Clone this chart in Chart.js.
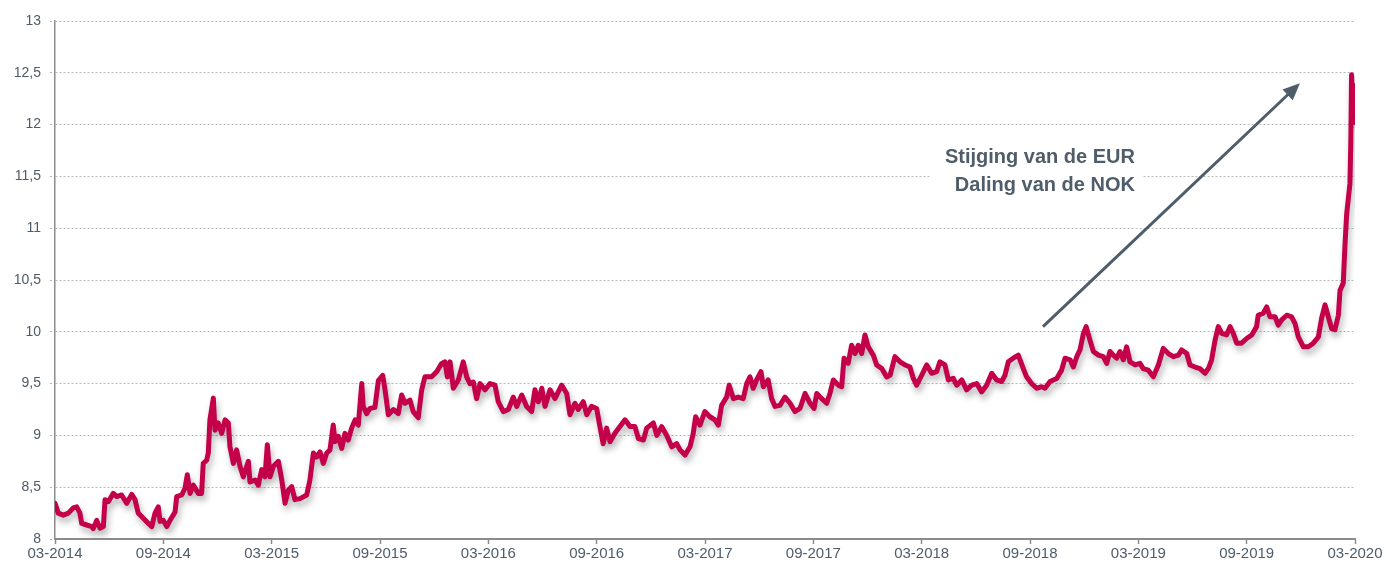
<!DOCTYPE html>
<html>
<head>
<meta charset="utf-8">
<script src="https://cdn.jsdelivr.net/npm/chart.js@4/dist/chart.umd.min.js"></script>
<style>
  html, body { margin:0; padding:0; background:#fff; }
  #wrap { width:1386px; height:565px; position:relative; }
</style>
</head>
<body>
<div id="wrap"><canvas id="c" width="1386" height="565"></canvas></div>
<script>
// Months elapsed since 03-2014
const months = [
0.00,0.18,0.46,0.74,1.01,1.20,1.38,1.48,1.76,2.03,2.12,2.31,2.49,2.68,2.77,2.95,3.23,3.42,3.69,3.97,
4.25,4.43,4.61,4.89,5.17,5.36,5.54,5.72,5.82,6.00,6.19,6.37,6.65,6.74,7.02,7.20,7.33,7.48,7.66,7.94,
8.12,8.21,8.40,8.49,8.58,8.77,8.86,9.04,9.23,9.42,9.60,9.69,9.88,10.06,10.25,10.43,10.71,10.80,11.08,11.26,
11.45,11.63,11.76,11.91,12.09,12.37,12.56,12.74,12.92,13.11,13.29,13.57,13.94,14.12,14.31,14.49,14.68,14.86,15.05,15.23,
15.41,15.51,15.69,15.88,16.06,16.24,16.43,16.62,16.80,16.99,17.07,17.26,17.45,17.72,17.91,18.15,18.28,18.46,18.74,19.01,
19.20,19.38,19.66,19.84,20.12,20.31,20.49,20.86,21.14,21.42,21.60,21.73,21.88,22.06,22.34,22.61,22.80,22.98,23.17,23.35,
23.54,23.82,24.09,24.37,24.55,24.83,25.11,25.38,25.57,25.85,26.12,26.40,26.58,26.77,26.96,27.14,27.42,27.69,28.06,28.34,
28.52,28.80,28.98,29.26,29.45,29.72,30.00,30.18,30.36,30.55,30.74,31.01,31.29,31.57,31.85,32.12,32.31,32.59,32.77,33.14,
33.33,33.60,33.88,34.16,34.43,34.62,34.89,35.17,35.35,35.48,35.72,35.99,36.27,36.55,36.74,36.92,37.20,37.34,37.57,37.84,
38.12,38.31,38.49,38.67,38.86,39.10,39.23,39.50,39.69,39.88,40.15,40.43,40.71,40.98,41.26,41.54,41.82,42.04,42.19,42.46,
42.74,42.92,43.11,43.38,43.57,43.70,43.93,44.12,44.31,44.49,44.68,44.86,45.04,45.32,45.51,45.79,46.06,46.25,46.52,46.80,
47.08,47.35,47.54,47.72,48.00,48.28,48.55,48.83,49.01,49.29,49.48,49.75,49.94,50.22,50.49,50.77,51.05,51.32,51.60,51.88,
52.15,52.43,52.61,52.80,53.07,53.35,53.63,53.81,54.09,54.37,54.65,54.83,55.11,55.48,55.75,55.94,56.22,56.40,56.59,56.77,
56.96,57.11,57.32,57.51,57.79,58.06,58.25,58.43,58.61,58.80,58.98,59.17,59.35,59.54,59.82,60.09,60.27,60.55,60.83,61.11,
61.38,61.66,61.94,62.22,62.40,62.68,62.86,63.14,63.41,63.69,63.88,64.06,64.25,64.43,64.62,64.89,65.08,65.26,65.45,65.72,
66.00,66.28,66.55,66.64,66.92,67.11,67.29,67.57,67.75,67.94,68.22,68.49,68.68,68.86,69.14,69.42,69.69,69.97,70.15,70.34,
70.52,70.71,70.89,71.08,71.17,71.35,71.44,71.54,71.72,71.77,71.81,71.86,71.90,71.95,72.00
];
// EUR/NOK rate
const eurNok = [
8.345,8.25,8.23,8.25,8.30,8.31,8.25,8.15,8.135,8.12,8.10,8.18,8.105,8.12,8.38,8.36,8.44,8.41,8.425,8.345,
8.43,8.38,8.25,8.20,8.15,8.12,8.25,8.31,8.17,8.18,8.12,8.18,8.26,8.41,8.425,8.49,8.62,8.44,8.52,8.44,
8.44,8.73,8.76,8.83,9.15,9.36,9.05,9.12,9.02,9.15,9.12,8.89,8.73,8.86,8.70,8.60,8.75,8.55,8.57,8.52,
8.67,8.60,8.91,8.60,8.70,8.75,8.57,8.345,8.47,8.505,8.38,8.39,8.425,8.57,8.83,8.79,8.84,8.73,8.83,8.86,
9.10,8.94,8.99,8.875,9.02,8.955,9.07,9.15,9.10,9.50,9.28,9.21,9.26,9.27,9.53,9.58,9.44,9.20,9.25,9.21,
9.39,9.31,9.34,9.23,9.17,9.44,9.565,9.565,9.615,9.695,9.71,9.565,9.71,9.455,9.535,9.71,9.565,9.50,9.515,9.355,
9.50,9.44,9.50,9.485,9.325,9.23,9.25,9.37,9.28,9.39,9.28,9.23,9.44,9.325,9.455,9.28,9.44,9.355,9.485,9.405,
9.20,9.31,9.25,9.325,9.20,9.28,9.26,9.085,8.92,9.07,8.94,9.02,9.085,9.15,9.085,9.085,8.97,8.955,9.07,9.12,
9.00,9.085,9.00,8.89,8.92,8.86,8.81,8.89,9.02,9.18,9.10,9.23,9.18,9.15,9.10,9.29,9.37,9.485,9.355,9.37,
9.355,9.50,9.565,9.455,9.535,9.615,9.47,9.535,9.355,9.28,9.29,9.37,9.31,9.23,9.26,9.405,9.31,9.26,9.405,9.355,
9.31,9.405,9.535,9.485,9.47,9.745,9.695,9.87,9.79,9.87,9.79,9.97,9.855,9.775,9.68,9.645,9.565,9.58,9.76,9.71,
9.68,9.66,9.55,9.485,9.58,9.68,9.60,9.615,9.71,9.68,9.535,9.55,9.485,9.535,9.44,9.485,9.50,9.42,9.485,9.60,
9.535,9.52,9.58,9.71,9.745,9.775,9.645,9.565,9.50,9.455,9.47,9.455,9.52,9.55,9.63,9.745,9.73,9.66,9.76,9.825,
9.985,10.05,9.92,9.81,9.775,9.76,9.695,9.81,9.775,9.745,9.81,9.73,9.855,9.71,9.68,9.695,9.645,9.63,9.565,9.68,
9.84,9.79,9.76,9.775,9.825,9.79,9.68,9.66,9.645,9.60,9.645,9.73,9.92,10.05,9.985,9.97,10.05,9.985,9.89,9.89,
9.935,9.97,10.05,10.16,10.18,10.24,10.145,10.145,10.065,10.115,10.16,10.145,10.08,9.95,9.855,9.855,9.89,9.95,10.13,10.26,
10.145,10.03,10.02,10.16,10.40,10.47,10.82,11.14,11.43,11.85,12.48,12.25,12.38,12.02,12.15
];
const xTickLabels = ['03-2014','09-2014','03-2015','09-2015','03-2016','09-2016','03-2017','09-2017','03-2018','09-2018','03-2019','09-2019','03-2020'];
const annotationLines = ['Stijging van de EUR','Daling van de NOK'];

// annotation anchors in data units (months, rate)
const textRightX = 59.81;
const textBaselines = [11.63, 11.36];
const boxX = [48.46, 60.26];
const boxY = [11.28, 11.92];
const arrowFrom = [54.72, 10.05];
const arrowTo = [68.95, 12.40];

const textColor = '#4f5c69';
const lineColor = '#c4004a';

const lineShadow = {
  id:'lineShadow',
  beforeDatasetDraw(chart){
    const ctx = chart.ctx;
    ctx.save();
    ctx.shadowColor = 'rgba(0,0,0,0.28)';
    ctx.shadowBlur = 6;
    ctx.shadowOffsetX = 2;
    ctx.shadowOffsetY = 5;
  },
  afterDatasetDraw(chart){
    chart.ctx.restore();
  }
};

const annot = {
  id:'annot',
  beforeDatasetsDraw(chart){
    const {ctx, scales:{x, y}} = chart;
    const x0 = x.getPixelForValue(boxX[0]), x1 = x.getPixelForValue(boxX[1]);
    const y0 = y.getPixelForValue(boxY[1]), y1 = y.getPixelForValue(boxY[0]);
    ctx.save();
    ctx.fillStyle = '#ffffff';
    ctx.fillRect(x0, y0, x1 - x0, y1 - y0);
    ctx.fillStyle = textColor;
    ctx.font = 'bold 20px "Liberation Sans", Arial, sans-serif';
    ctx.textAlign = 'right';
    ctx.textBaseline = 'alphabetic';
    const tx = x.getPixelForValue(textRightX);
    annotationLines.forEach((t, i) => {
      ctx.fillText(t, tx, y.getPixelForValue(textBaselines[i]));
    });
    ctx.restore();
  },
  afterDatasetsDraw(chart){
    const {ctx, scales:{x, y}} = chart;
    const sx = x.getPixelForValue(arrowFrom[0]), sy = y.getPixelForValue(arrowFrom[1]);
    const ex = x.getPixelForValue(arrowTo[0]), ey = y.getPixelForValue(arrowTo[1]);
    const ang = Math.atan2(ey - sy, ex - sx);
    const headLen = 17, headHalf = 7.5;
    const bx = ex - headLen * Math.cos(ang), by = ey - headLen * Math.sin(ang);
    ctx.save();
    ctx.strokeStyle = textColor;
    ctx.fillStyle = textColor;
    ctx.lineWidth = 3;
    ctx.beginPath();
    ctx.moveTo(sx, sy);
    ctx.lineTo(bx + 2*Math.cos(ang), by + 2*Math.sin(ang));
    ctx.stroke();
    ctx.beginPath();
    ctx.moveTo(ex, ey);
    ctx.lineTo(bx + headHalf * Math.sin(ang), by - headHalf * Math.cos(ang));
    ctx.lineTo(bx - headHalf * Math.sin(ang), by + headHalf * Math.cos(ang));
    ctx.closePath();
    ctx.fill();
    ctx.restore();
  }
};

const points = months.map((m, i) => ({x: m, y: eurNok[i]}));

new Chart(document.getElementById('c'), {
  type: 'line',
  data: {
    datasets: [{
      data: points,
      borderColor: lineColor,
      backgroundColor: lineColor,
      borderWidth: 5,
      pointRadius: 0,
      tension: 0,
      borderJoinStyle: 'round',
      borderCapStyle: 'round',
      fill: false
    }]
  },
  options: {
    responsive: false,
    animation: false,
    devicePixelRatio: 1,
    layout: { padding: { top: 21, right: 31, left: 0, bottom: 0 } },
    plugins: { legend: { display: false }, tooltip: { enabled: false } },
    scales: {
      x: {
        type: 'linear',
        min: 0, max: 72,
        afterFit(s){ s.height = 26; },
        grid: { drawOnChartArea: false, drawTicks: true, tickLength: 5, tickColor: '#8c8c8c', tickWidth: 1.5 },
        border: { color: '#8c8c8c', width: 2 },
        ticks: {
          stepSize: 6, autoSkip: false, maxRotation: 0, padding: 1,
          color: textColor,
          font: { family: '"Liberation Sans", Arial, sans-serif', size: 15 },
          callback: (v, i) => xTickLabels[i]
        }
      },
      y: {
        min: 8, max: 13,
        afterFit(s){ s.width = 55; },
        grid: { color: '#b8b8b8', lineWidth: 1, tickLength: 5, tickColor: '#b8b8b8', tickBorderDash: [2,2] },
        border: { color: '#8c8c8c', width: 1.5, dash: [2,2] },
        ticks: {
          stepSize: 0.5, padding: 9,
          color: textColor,
          font: { family: '"Liberation Sans", Arial, sans-serif', size: 14 },
          callback: (v) => String(v).replace('.', ',')
        }
      }
    }
  },
  plugins: [lineShadow, annot]
});
</script>
</body>
</html>
